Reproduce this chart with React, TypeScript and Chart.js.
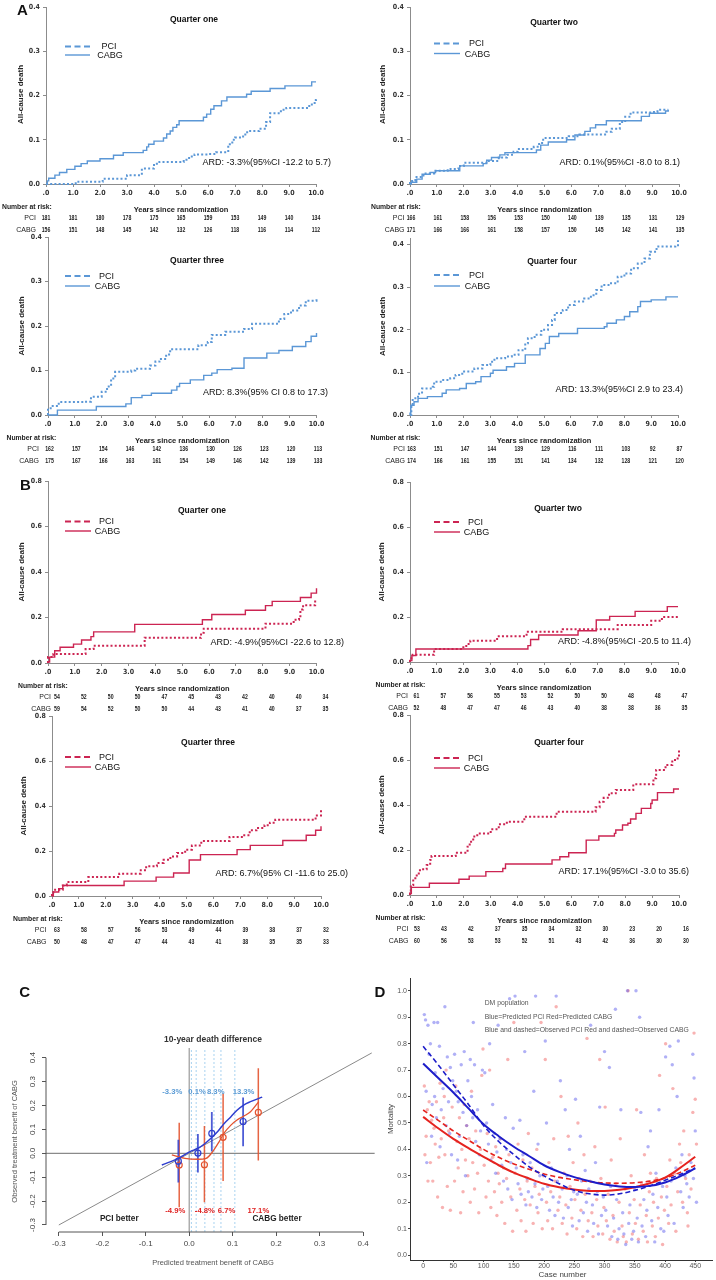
import React, { useEffect, useRef } from "react";
import { Chart, registerables } from "chart.js";

Chart.register(...registerables);

type Pt = [number, number];

const FONT = "'Liberation Sans', Arial, Helvetica, sans-serif";
const NARROW = "'Liberation Sans Narrow', 'DejaVu Sans Condensed', 'Liberation Sans', sans-serif";
Chart.defaults.font.family = FONT;

const BLUE_KM = "#5b97d6";
const RED_KM = "#cc2452";
const AXIS_KM = "#8c8c8c";

// ---------------- Kaplan-Meier data (years, cumulative death) ----------------
const yearTicks = [0, 1, 2, 3, 4, 5, 6, 7, 8, 9, 10];
const aYTicks = [0, 0.1, 0.2, 0.3, 0.4];
const bYTicks = [0, 0.2, 0.4, 0.6, 0.8];

const aQ1Pci: Pt[] = [[0,0],[1.1,0.005],[2.1,0.012],[3.0,0.02],[3.55,0.035],[4.0,0.046],[4.2,0.05],[5.1,0.055],[5.3,0.062],[5.5,0.067],[6.0,0.068],[6.3,0.072],[6.75,0.09],[6.9,0.1],[7.0,0.105],[7.3,0.112],[7.45,0.12],[7.9,0.125],[8.15,0.14],[8.3,0.16],[8.7,0.168],[8.9,0.172],[9.75,0.18],[9.95,0.19],[10,0.193]];
const aQ1Cabg: Pt[] = [[0,0],[0.05,0.007],[0.1,0.013],[0.33,0.02],[0.5,0.026],[0.77,0.033],[1.07,0.04],[1.3,0.046],[1.53,0.052],[2.0,0.057],[2.5,0.065],[2.86,0.071],[3.6,0.076],[3.73,0.084],[3.8,0.09],[4.0,0.097],[4.35,0.104],[4.47,0.113],[4.6,0.12],[4.7,0.128],[4.84,0.134],[4.93,0.143],[5.83,0.151],[5.95,0.158],[6.1,0.169],[6.22,0.177],[6.5,0.188],[6.7,0.197],[7.43,0.203],[7.6,0.21],[8.3,0.216],[8.85,0.222],[9.84,0.231],[10,0.231]];
const aQ2Pci: Pt[] = [[0,0],[0,0.007],[0.2,0.016],[0.5,0.024],[0.9,0.03],[1.4,0.034],[1.8,0.041],[2.0,0.048],[2.9,0.052],[3.3,0.06],[3.6,0.066],[3.85,0.073],[4.0,0.079],[4.6,0.084],[4.8,0.093],[4.95,0.104],[5.9,0.108],[6.3,0.112],[7.3,0.118],[7.5,0.125],[7.8,0.14],[8.0,0.152],[8.2,0.162],[9.0,0.163],[9.2,0.168],[9.6,0.168]];
const aQ2Cabg: Pt[] = [[0,0],[0.05,0.004],[0.25,0.011],[0.45,0.022],[0.75,0.026],[0.95,0.03],[1.85,0.041],[2.72,0.046],[2.85,0.054],[3.03,0.06],[3.34,0.066],[3.53,0.071],[4.7,0.077],[4.86,0.088],[5.14,0.095],[5.82,0.1],[6.13,0.111],[6.5,0.119],[6.7,0.127],[6.9,0.134],[7.3,0.143],[8.6,0.153],[8.9,0.16],[9.5,0.165],[9.6,0.168]];
const aQ3Pci: Pt[] = [[0,0],[0,0.015],[0.1,0.02],[0.4,0.029],[1.35,0.03],[1.6,0.041],[2.0,0.052],[2.2,0.064],[2.35,0.082],[2.5,0.097],[3.1,0.1],[3.25,0.104],[3.8,0.111],[4.0,0.12],[4.15,0.126],[4.4,0.136],[4.55,0.148],[5.6,0.157],[5.95,0.164],[6.1,0.18],[6.6,0.187],[7.3,0.193],[7.6,0.205],[8.6,0.216],[8.8,0.227],[9.05,0.235],[9.35,0.246],[9.6,0.257],[10,0.264]];
const aQ3Cabg: Pt[] = [[0,0],[0.35,0.011],[1.8,0.019],[2.9,0.025],[3.1,0.039],[3.5,0.044],[3.85,0.049],[4.6,0.056],[4.8,0.064],[4.9,0.071],[5.3,0.079],[5.8,0.089],[6.1,0.094],[6.3,0.102],[6.85,0.105],[7.3,0.128],[8.15,0.139],[8.6,0.145],[9.1,0.154],[9.6,0.165],[9.8,0.177],[10,0.184]];
const aQ4Pci: Pt[] = [[0,0],[0.05,0.023],[0.1,0.039],[0.3,0.05],[0.45,0.062],[0.85,0.066],[0.9,0.078],[1.2,0.082],[1.5,0.086],[1.7,0.094],[1.95,0.102],[2.4,0.109],[2.7,0.117],[3.0,0.125],[3.15,0.133],[3.55,0.137],[3.8,0.141],[4.05,0.152],[4.3,0.168],[4.4,0.18],[4.65,0.188],[4.9,0.2],[5.15,0.211],[5.3,0.223],[5.4,0.239],[5.7,0.246],[5.9,0.258],[6.15,0.266],[6.5,0.273],[6.75,0.281],[6.95,0.293],[7.15,0.305],[7.5,0.309],[7.75,0.324],[8.0,0.332],[8.25,0.344],[8.5,0.355],[8.75,0.367],[8.95,0.383],[9.2,0.395],[9.9,0.398],[10,0.41]];
const aQ4Cabg: Pt[] = [[0,0],[0,0.004],[0.03,0.023],[0.15,0.031],[0.3,0.039],[0.65,0.043],[1.2,0.051],[1.35,0.059],[1.85,0.062],[2.1,0.074],[2.45,0.078],[2.65,0.09],[3.0,0.098],[3.1,0.105],[3.6,0.113],[3.9,0.121],[4.3,0.141],[4.85,0.156],[5.05,0.168],[5.2,0.184],[5.55,0.191],[6.25,0.203],[7.25,0.207],[7.35,0.215],[7.7,0.223],[8.0,0.231],[8.2,0.242],[8.5,0.254],[8.6,0.266],[9.0,0.27],[9.55,0.277],[10,0.277]];

const bQ1Pci: Pt[] = [[0,0],[0,0.026],[0.2,0.04],[1.4,0.061],[1.7,0.076],[3.6,0.111],[5.7,0.133],[5.8,0.151],[8.1,0.173],[9.15,0.19],[9.35,0.2],[9.4,0.235],[9.5,0.254],[9.95,0.275],[10,0.275]];
const bQ1Cabg: Pt[] = [[0,0],[0,0.004],[0.06,0.026],[0.25,0.054],[0.45,0.069],[0.95,0.083],[1.25,0.101],[1.6,0.116],[1.7,0.137],[3.23,0.17],[5.75,0.19],[6.1,0.213],[7.35,0.232],[8.1,0.252],[8.35,0.271],[9.4,0.288],[9.8,0.307],[10,0.329]];
const bQ2Pci: Pt[] = [[0,0],[0,0.017],[0.1,0.032],[0.9,0.058],[1.95,0.066],[2.1,0.08],[2.25,0.095],[3.25,0.114],[4.35,0.134],[5.7,0.146],[7.75,0.164],[9.0,0.183],[9.4,0.2],[10,0.2]];
const bQ2Cabg: Pt[] = [[0,0],[0,0.007],[0.07,0.029],[0.22,0.058],[4.4,0.073],[4.5,0.1],[4.8,0.12],[6.27,0.139],[6.95,0.187],[7.45,0.203],[8.4,0.225],[9.6,0.246],[10,0.246]];
const bQ3Pci: Pt[] = [[0,0],[0,0.01],[0.05,0.028],[0.4,0.047],[0.55,0.062],[1.35,0.084],[2.5,0.099],[3.3,0.114],[3.5,0.132],[3.9,0.147],[4.15,0.161],[4.4,0.176],[4.65,0.191],[4.95,0.206],[5.2,0.225],[5.55,0.244],[6.6,0.262],[7.1,0.27],[7.35,0.292],[7.6,0.302],[7.9,0.315],[8.1,0.326],[8.3,0.339],[9.8,0.358],[10,0.381]];
const bQ3Cabg: Pt[] = [[0,0],[0.05,0.018],[0.25,0.033],[0.4,0.047],[2.68,0.066],[3.87,0.084],[4.52,0.102],[5.1,0.16],[5.52,0.184],[6.88,0.206],[7.37,0.225],[8.58,0.247],[9.45,0.27],[9.8,0.292],[10,0.31]];
const bQ4Pci: Pt[] = [[0,0],[0,0.007],[0.03,0.044],[0.12,0.074],[0.25,0.096],[0.37,0.114],[0.62,0.133],[0.75,0.156],[0.8,0.173],[1.7,0.188],[2.14,0.215],[2.22,0.237],[2.35,0.26],[2.5,0.273],[3.0,0.292],[3.3,0.314],[3.6,0.326],[4.25,0.348],[5.45,0.37],[6.9,0.39],[7.05,0.415],[7.2,0.432],[7.4,0.452],[7.65,0.467],[8.3,0.492],[9.05,0.519],[9.15,0.556],[9.5,0.578],[9.75,0.6],[9.95,0.615],[10,0.644]];
const bQ4Cabg: Pt[] = [[0,0],[0,0.007],[0.05,0.034],[0.72,0.052],[1.82,0.07],[2.2,0.084],[2.82,0.104],[3.45,0.118],[3.55,0.138],[5.28,0.156],[5.57,0.17],[5.9,0.188],[6.55,0.244],[7.02,0.262],[7.6,0.274],[7.65,0.289],[7.9,0.311],[8.1,0.319],[8.2,0.338],[8.4,0.363],[8.6,0.385],[8.95,0.407],[9.0,0.422],[9.2,0.455],[9.8,0.471],[10,0.471]];

// ---------------- Number at risk ----------------
const aQ1RiskPci = [181,181,180,178,175,165,159,153,149,140,134];
const aQ1RiskCabg = [156,151,148,145,142,132,126,118,116,114,112];
const aQ2RiskPci = [166,161,158,156,153,150,140,139,135,131,129];
const aQ2RiskCabg = [171,166,166,161,158,157,150,145,142,141,135];
const aQ3RiskPci = [162,157,154,146,142,136,130,126,123,120,113];
const aQ3RiskCabg = [175,167,166,163,161,154,149,146,142,139,133];
const aQ4RiskPci = [163,151,147,144,139,129,116,111,103,92,87];
const aQ4RiskCabg = [174,166,161,155,151,141,134,132,128,121,120];
const bQ1RiskPci = [54,52,50,50,47,45,43,42,40,40,34];
const bQ1RiskCabg = [59,54,52,50,50,44,43,41,40,37,35];
const bQ2RiskPci = [61,57,56,55,53,52,50,50,48,48,47];
const bQ2RiskCabg = [52,48,47,47,46,43,40,38,38,36,35];
const bQ3RiskPci = [63,58,57,56,53,49,44,39,38,37,32];
const bQ3RiskCabg = [50,48,47,47,44,43,41,38,35,35,33];
const bQ4RiskPci = [53,43,42,37,35,34,32,30,23,20,16];
const bQ4RiskCabg = [60,56,53,53,52,51,43,42,36,30,30];

// ---------------- Panel C: calibration ----------------
const cAxisTicks = [-0.3, -0.2, -0.1, 0, 0.1, 0.2, 0.3, 0.4];
const cBluePredX = [-0.025, 0.02, 0.052, 0.124];
const cBlueArd = [-0.033, 0.001, 0.083, 0.133];
const cBlueLo = [-0.122, -0.08, 0.008, 0.029];
const cBlueHi = [0.057, 0.081, 0.173, 0.234];
const cRedPredX = [-0.023, 0.035, 0.078, 0.159];
const cRedArd = [-0.049, -0.048, 0.067, 0.171];
const cRedLo = [-0.226, -0.205, -0.116, -0.03];
const cRedHi = [0.128, 0.114, 0.25, 0.356];
const cCutPoints = [0.005, 0.016, 0.036, 0.057, 0.073, 0.105];
const cBlueCurve: Pt[] = [[-0.063,-0.049],[-0.025,-0.021],[0.002,0.007],[0.02,0.021],[0.035,0.039],[0.05,0.063],[0.065,0.09],[0.08,0.124],[0.096,0.153],[0.11,0.18],[0.126,0.203],[0.141,0.216],[0.168,0.235]];
const cRedCurve: Pt[] = [[-0.04,-0.007],[-0.01,-0.021],[0.02,-0.025],[0.039,-0.021],[0.054,0.007],[0.069,0.049],[0.08,0.084],[0.096,0.118],[0.11,0.139],[0.126,0.156],[0.141,0.174],[0.16,0.216]];
const cBlueLabels = ["-3.3%", "0.1%", "8.3%", "13.3%"];
const cRedLabels = ["-4.9%", "-4.8%", "6.7%", "17.1%"];

// ---------------- Panel D: mortality by case ----------------
const dXTicks = [0, 50, 100, 150, 200, 250, 300, 350, 400, 450];
const dYTicks = [0, 0.1, 0.2, 0.3, 0.4, 0.5, 0.6, 0.7, 0.8, 0.9, 1.0];
const dPciPred: Pt[] = [[2,0.91],[4,0.89],[5,0.62],[8,0.87],[10,0.76],[12,0.8],[15,0.57],[18,0.88],[20,0.69],[22,0.52],[24,0.88],[6,0.35],[14,0.45],[19,0.6],
[27,0.79],[30,0.55],[33,0.63],[36,0.94],[38,0.49],[40,0.75],[42,0.58],[45,0.71],[47,0.38],[49,0.66],[28,0.41],[44,0.46],
[52,0.76],[55,0.62],[58,0.58],[60,0.45],[63,0.72],[66,0.54],[68,0.77],[70,0.3],[72,0.49],[74,0.66],[57,0.36],
[78,0.74],[80,0.6],[83,0.88],[85,0.72],[87,0.43],[90,0.55],[93,0.38],[95,0.47],[98,0.7],[82,0.52],
[102,0.69],[105,0.5],[108,0.42],[110,0.8],[112,0.36],[115,0.57],[118,0.46],[120,0.31],[122,0.39],[124,0.87],
[127,0.44],[130,0.34],[133,0.28],[136,0.52],[138,0.4],[140,0.25],[143,0.97],[145,0.35],[147,0.21],[149,0.48],
[152,0.98],[154,0.33],[157,0.27],[160,0.51],[162,0.23],[165,0.38],[168,0.77],[170,0.19],[172,0.29],[174,0.24],
[177,0.35],[180,0.22],[183,0.62],[185,0.27],[188,0.18],[190,0.42],[193,0.3],[196,0.21],[198,0.25],[186,0.98],
[202,0.81],[204,0.5],[206,0.26],[209,0.17],[212,0.33],[215,0.22],[218,0.15],[220,0.98],[222,0.28],[224,0.2],
[227,0.66],[230,0.25],[232,0.14],[235,0.55],[238,0.3],[240,0.18],[242,0.4],[245,0.21],[247,0.11],[249,0.24],
[252,0.59],[255,0.23],[258,0.13],[260,0.45],[262,0.28],[265,0.16],[268,0.32],[270,0.2],[272,0.09],[274,0.25],
[277,0.87],[280,0.19],[282,0.12],[285,0.35],[288,0.24],[290,0.08],[292,0.56],[295,0.15],[298,0.22],[300,0.77],
[302,0.17],[305,0.11],[308,0.71],[310,0.26],[312,0.07],[315,0.14],[318,0.93],[320,0.21],[322,0.06],[324,0.1],
[327,0.55],[330,0.16],[332,0.08],[335,0.04],[338,1.0],[340,0.12],[342,0.19],[345,0.06],[348,0.09],[350,0.25],
[352,1.0],[354,0.14],[356,0.05],[358,0.9],[360,0.54],[362,0.11],[365,0.21],[368,0.07],[370,0.17],[372,0.41],
[376,0.47],[378,0.13],[380,0.23],[383,0.05],[385,0.31],[388,0.18],[390,0.55],[393,0.1],[396,0.26],[398,0.09],
[401,0.75],[403,0.22],[405,0.15],[408,0.79],[410,0.28],[412,0.72],[415,0.12],[418,0.33],[420,0.6],[422,0.81],
[426,0.24],[428,0.38],[430,0.18],[433,0.3],[436,0.27],[440,0.22],[443,0.35],[446,0.76],[448,0.67],[450,0.47],[452,0.2],[447,0.29]];
const dCabgPred: Pt[] = [[2,0.64],[3,0.38],[5,0.45],[8,0.28],[10,0.58],[12,0.35],[14,0.51],[16,0.28],[18,0.48],[20,0.42],[22,0.58],[24,0.22],[7,0.55],
[26,0.37],[28,0.65],[30,0.44],[32,0.18],[34,0.52],[36,0.38],[38,0.7],[40,0.26],[42,0.47],[45,0.17],[48,0.56],[35,0.6],
[52,0.28],[54,0.64],[56,0.43],[58,0.33],[60,0.52],[62,0.16],[64,0.4],[66,0.24],[68,0.57],[70,0.36],[72,0.49],[74,0.3],
[76,0.44],[78,0.2],[80,0.62],[82,0.35],[85,0.25],[87,0.47],[90,0.31],[92,0.16],[95,0.4],[97,0.68],[99,0.78],
[101,0.34],[104,0.22],[106,0.46],[108,0.28],[110,0.7],[112,0.18],[115,0.37],[118,0.24],[120,0.41],[122,0.15],[124,0.31],
[126,0.27],[128,0.44],[130,0.2],[133,0.33],[135,0.12],[138,0.29],[140,0.74],[142,0.38],[145,0.22],[148,0.09],[150,0.88],
[152,0.31],[155,0.17],[157,0.42],[160,0.25],[162,0.13],[165,0.36],[168,0.21],[170,0.09],[172,0.28],[174,0.46],
[177,0.19],[180,0.33],[182,0.12],[185,0.26],[188,0.4],[190,0.16],[192,0.23],[195,0.88],[197,0.1],[199,0.3],
[202,0.74],[204,0.2],[206,0.13],[208,0.35],[211,0.24],[214,0.1],[216,0.44],[218,0.28],[220,0.94],[223,0.17],
[226,0.22],[228,0.6],[230,0.12],[233,0.31],[236,0.19],[238,0.08],[240,0.45],[243,0.26],[246,0.14],[248,0.35],
[251,0.21],[254,0.1],[256,0.5],[258,0.29],[261,0.17],[264,0.07],[266,0.38],[268,0.23],[271,0.82],[273,0.13],
[276,0.28],[279,0.16],[281,0.07],[284,0.41],[287,0.21],[289,0.11],[292,0.74],[294,0.29],[297,0.08],[299,0.18],
[301,0.56],[303,0.13],[306,0.23],[309,0.06],[311,0.36],[314,0.15],[316,0.09],[319,0.27],[321,0.05],[324,0.2],
[326,0.44],[329,0.11],[331,0.07],[334,0.25],[336,0.05],[339,1.0],[341,0.16],[344,0.3],[346,0.08],[349,0.21],
[351,0.12],[353,0.55],[356,0.06],[359,0.19],[361,0.27],[364,0.09],[366,0.38],[369,0.15],[371,0.05],[374,0.24],
[376,0.31],[379,0.11],[381,0.2],[384,0.07],[386,0.29],[389,0.14],[391,0.68],[394,0.22],[396,0.04],[399,0.17],
[401,0.8],[403,0.26],[406,0.12],[408,0.36],[410,0.19],[413,0.63],[416,0.31],[418,0.09],[421,0.24],[424,0.42],
[426,0.35],[429,0.2],[431,0.47],[434,0.29],[437,0.16],[440,0.38],[443,0.25],[446,0.54],[448,0.84],[450,0.59],[452,0.42],[438,0.11]];
const dFitCase = [0,25,50,75,100,125,150,175,200,225,250,275,300,325,350,375,400,425,450];
const dPciPredFit = [0.725,0.67,0.615,0.555,0.495,0.45,0.41,0.375,0.34,0.315,0.295,0.28,0.267,0.26,0.258,0.262,0.275,0.298,0.328];
const dPciObsFit = [0.79,0.72,0.645,0.57,0.49,0.43,0.38,0.335,0.3,0.27,0.245,0.232,0.227,0.232,0.245,0.262,0.283,0.305,0.33];
const dCabgPredFit = [0.523,0.48,0.44,0.405,0.372,0.34,0.312,0.29,0.27,0.257,0.248,0.243,0.243,0.247,0.257,0.272,0.293,0.33,0.372];
const dCabgObsFit = [0.549,0.51,0.47,0.435,0.4,0.37,0.345,0.325,0.307,0.294,0.285,0.278,0.273,0.272,0.274,0.28,0.292,0.313,0.34];

// ---------------- helpers ----------------
function drawText(ctx: any, text: string, x: number, y: number, font: string, color: string, align: CanvasTextAlign = "center", rot = 0, sx = 1) {
  ctx.save();
  ctx.translate(x, y);
  if (rot) ctx.rotate(rot);
  if (sx !== 1) ctx.scale(sx, 1);
  ctx.font = font;
  ctx.fillStyle = color;
  ctx.textAlign = align;
  ctx.textBaseline = "middle";
  ctx.fillText(text, 0, 0);
  ctx.restore();
}
function seg(ctx: any, x0: number, y0: number, x1: number, y1: number) {
  ctx.beginPath();
  ctx.moveTo(x0, y0);
  ctx.lineTo(x1, y1);
  ctx.stroke();
}
const toXY = (a: Pt[]) => a.map(([x, y]) => ({ x, y }));

// ---------------- KM panels layout ----------------
const kmPanels: any[] = [
  { id: "aq1", col: 0, area: { l: 46, t: 5, r: 316, b: 184 }, yMax: 0.4, yTicks: aYTicks, color: BLUE_KM,
    pci: aQ1Pci, cabg: aQ1Cabg, riskPci: aQ1RiskPci, riskCabg: aQ1RiskCabg,
    title: "Quarter one", titleAt: [194, 20], leg: { x0: 65, x1: 90, y1: 46.5, y2: 55, tx: 109 },
    ard: "ARD: -3.3%(95%CI -12.2 to 5.7)", ardAt: [331, 163], yTitleX: 21, dx: 0, labelR: 36, narL: 2,
    letter: { text: "A", x: 22.5, y: 11 } },
  { id: "aq2", col: 358, area: { l: 410, t: 5, r: 679, b: 184 }, yMax: 0.4, yTicks: aYTicks, color: BLUE_KM,
    pci: aQ2Pci, cabg: aQ2Cabg, riskPci: aQ2RiskPci, riskCabg: aQ2RiskCabg,
    title: "Quarter two", titleAt: [554, 23], leg: { x0: 434, x1: 460, y1: 43.5, y2: 53.5, tx: 476.5 },
    ard: "ARD: 0.1%(95%CI -8.0 to 8.1)", ardAt: [680, 163], yTitleX: 383, dx: 1, labelR: 404.5, narL: 371 },
  { id: "aq3", col: 0, area: { l: 48, t: 237, r: 316.5, b: 415 }, yMax: 0.4, yTicks: aYTicks, color: BLUE_KM,
    pci: aQ3Pci, cabg: aQ3Cabg, riskPci: aQ3RiskPci, riskCabg: aQ3RiskCabg,
    title: "Quarter three", titleAt: [197, 261], leg: { x0: 65, x1: 90, y1: 276, y2: 286, tx: 106.5 },
    ard: "ARD: 8.3%(95% CI 0.8 to 17.3)", ardAt: [328, 393], yTitleX: 22, dx: 1.5, labelR: 39, narL: 6.5 },
  { id: "aq4", col: 358, area: { l: 410, t: 238, r: 678, b: 415 }, yMax: 0.415, yTicks: aYTicks, color: BLUE_KM,
    pci: aQ4Pci, cabg: aQ4Cabg, riskPci: aQ4RiskPci, riskCabg: aQ4RiskCabg,
    title: "Quarter four", titleAt: [552, 262], leg: { x0: 434, x1: 460, y1: 275, y2: 286, tx: 476.5 },
    ard: "ARD: 13.3%(95%CI 2.9 to 23.4)", ardAt: [683, 390], yTitleX: 383, dx: 1.5, labelR: 405, narL: 370.5 },
  { id: "bq1", col: 0, area: { l: 48, t: 481, r: 316.5, b: 663 }, yMax: 0.8, yTicks: bYTicks, color: RED_KM,
    pci: bQ1Pci, cabg: bQ1Cabg, riskPci: bQ1RiskPci, riskCabg: bQ1RiskCabg,
    title: "Quarter one", titleAt: [202, 511], leg: { x0: 65, x1: 91, y1: 521.5, y2: 531, tx: 106.5 },
    ard: "ARD: -4.9%(95%CI -22.6 to 12.8)", ardAt: [344, 643], yTitleX: 22, dx: 9, labelR: 51, narL: 18,
    letter: { text: "B", x: 25.3, y: 486 } },
  { id: "bq2", col: 358, area: { l: 410, t: 482, r: 678, b: 662 }, yMax: 0.8, yTicks: bYTicks, color: RED_KM,
    pci: bQ2Pci, cabg: bQ2Cabg, riskPci: bQ2RiskPci, riskCabg: bQ2RiskCabg,
    title: "Quarter two", titleAt: [558, 509], leg: { x0: 434, x1: 460, y1: 522, y2: 532, tx: 475.5 },
    ard: "ARD: -4.8%(95%CI -20.5 to 11.4)", ardAt: [691, 641.5], yTitleX: 382, dx: 6.5, labelR: 408, narL: 375.5 },
  { id: "bq3", col: 0, area: { l: 52, t: 716, r: 321, b: 896 }, yMax: 0.8, yTicks: bYTicks, color: RED_KM,
    pci: bQ3Pci, cabg: bQ3Cabg, riskPci: bQ3RiskPci, riskCabg: bQ3RiskCabg,
    title: "Quarter three", titleAt: [208, 743], leg: { x0: 65, x1: 91, y1: 757, y2: 767, tx: 106.5 },
    ard: "ARD: 6.7%(95% CI -11.6 to 25.0)", ardAt: [348, 874], yTitleX: 24, dx: 5, labelR: 46.5, narL: 13 },
  { id: "bq4", col: 358, area: { l: 410, t: 715, r: 679, b: 895 }, yMax: 0.8, yTicks: bYTicks, color: RED_KM,
    pci: bQ4Pci, cabg: bQ4Cabg, riskPci: bQ4RiskPci, riskCabg: bQ4RiskCabg,
    title: "Quarter four", titleAt: [559, 743], leg: { x0: 434, x1: 460, y1: 758, y2: 768, tx: 475.5 },
    ard: "ARD: 17.1%(95%CI -3.0 to 35.6)", ardAt: [689, 872], yTitleX: 382, dx: 7, labelR: 408.5, narL: 375.5 },
];

function drawKmOverlay(chart: any, p: any, cx: number, cy: number) {
  const ctx = chart.ctx;
  const xs = chart.scales.x;
  ctx.save();
  ctx.translate(-cx, -cy);
  drawText(ctx, p.title, p.titleAt[0], p.titleAt[1], `bold 8.5px ${FONT}`, "#111");
  // legend
  ctx.strokeStyle = p.color;
  ctx.lineWidth = 2;
  ctx.setLineDash([6, 3.5]);
  seg(ctx, p.leg.x0, p.leg.y1, p.leg.x1, p.leg.y1);
  ctx.setLineDash([]);
  ctx.lineWidth = 1.4;
  seg(ctx, p.leg.x0, p.leg.y2, p.leg.x1, p.leg.y2);
  drawText(ctx, "PCI", p.leg.tx, p.leg.y1 + 0.5, `9px ${FONT}`, "#111");
  drawText(ctx, "CABG", p.leg.tx + 1, p.leg.y2 + 1, `9px ${FONT}`, "#111");
  drawText(ctx, p.ard, p.ardAt[0], p.ardAt[1], `9px ${FONT}`, "#111", "right");
  drawText(ctx, "All-cause death", p.yTitleX, (p.area.t + p.area.b) / 2, `bold 8px ${FONT}`, "#222", "center", -Math.PI / 2);
  const b = p.area.b;
  drawText(ctx, "Number at risk:", p.narL, b + 23, `bold 6.8px ${FONT}`, "#222", "left");
  drawText(ctx, "Years since randomization", (p.area.l + p.area.r) / 2, b + 25.5, `bold 7.5px ${FONT}`, "#222");
  drawText(ctx, "PCI", p.labelR, b + 34.5, `7px ${FONT}`, "#222", "right");
  drawText(ctx, "CABG", p.labelR, b + 46, `7px ${FONT}`, "#222", "right");
  yearTicks.forEach((t, i) => {
    const x = xs.getPixelForValue(t) + cx + p.dx;
    drawText(ctx, String(p.riskPci[i]), x, b + 34.5, `bold 7.2px ${FONT}`, "#222", "center", 0, 0.72);
    drawText(ctx, String(p.riskCabg[i]), x, b + 46, `bold 7.2px ${FONT}`, "#222", "center", 0, 0.72);
  });
  if (p.letter) drawText(ctx, p.letter.text, p.letter.x, p.letter.y, `bold 15px ${FONT}`, "#111");
  ctx.restore();
}

function kmSpec(p: any) {
  const cx = p.col;
  const cy = Math.max(0, p.area.t - 14);
  const w = 358;
  const h = p.area.b + 52 - cy;
  const xH = 18;
  const tickFont = { family: NARROW, size: 7, weight: "bold" as const };
  const make = () => ({
    type: "line",
    data: {
      datasets: [
        { label: "PCI", data: toXY(p.pci), borderColor: p.color, borderWidth: 2, borderDash: [2, 2.2], stepped: "before", pointRadius: 0, fill: false, clip: false },
        { label: "CABG", data: toXY(p.cabg), borderColor: p.color, borderWidth: 1.4, stepped: "before", pointRadius: 0, fill: false, clip: false },
      ],
    },
    options: {
      animation: false,
      responsive: false,
      events: [],
      layout: { padding: { left: 0, top: p.area.t - cy, right: cx + w - p.area.r, bottom: cy + h - p.area.b - xH } },
      plugins: { legend: { display: false }, tooltip: { enabled: false } },
      scales: {
        x: {
          type: "linear", min: 0, max: 10,
          afterBuildTicks: (s: any) => { s.ticks = yearTicks.map((v) => ({ value: v })); },
          afterFit: (s: any) => { s.height = xH; },
          grid: { drawOnChartArea: false, color: AXIS_KM, tickLength: 3 },
          border: { color: AXIS_KM, width: 1 },
          ticks: { autoSkip: false, maxRotation: 0, padding: 2, color: "#333", font: tickFont,
            callback: (v: any) => (Number(v) === 0 ? ".0" : Number(v).toFixed(1)) },
        },
        y: {
          type: "linear", min: 0, max: p.yMax,
          afterBuildTicks: (s: any) => { s.ticks = p.yTicks.map((v: number) => ({ value: v })); },
          afterFit: (s: any) => { s.width = p.area.l - cx; },
          grid: { drawOnChartArea: false, color: AXIS_KM, tickLength: 3 },
          border: { color: AXIS_KM, width: 1 },
          ticks: { padding: 3, color: "#333", font: tickFont, callback: (v: any) => Number(v).toFixed(1) },
        },
      },
    },
    plugins: [{ id: "km-" + p.id, afterDraw: (chart: any) => drawKmOverlay(chart, p, cx, cy) }],
  });
  return { x: cx, y: cy, w, h, make };
}

// ---------------- Panel C ----------------
const C_BLUE = "#2f3fcf";
const C_RED = "#e3532f";
const C_LIGHT = "#5b9bd5";
const C_LABEL_RED = "#e02424";
const cBox = { x: 0, y: 982, w: 380, h: 298 };
const cArea = { l: 46, t: 1048, r: 379, b: 1232 };
const cRange = { xMin: -0.3295, xMax: 0.427, yMin: -0.3293, yMax: 0.4406 };
const cLayout = {
  title: [213, 1040], xTitle: [213, 1263], yTitleX: 15, yLabelX: 33,
  blueLabelX: [-0.039, 0.018, 0.061, 0.125], blueLabelY: 0.256,
  redLabelX: [-0.032, 0.036, 0.086, 0.159], redLabelY: -0.241,
  pciBetter: [-0.161, -0.275], cabgBetter: [0.202, -0.275], diagEnd: 0.42,
};

function cSpec() {
  const cx = cBox.x, cy = cBox.y;
  const make = () => {
    const datasets: any[] = [];
    datasets.push({ data: cBluePredX.map((x, i) => ({ x, y: cBlueArd[i] })), pointRadius: 3, pointBorderWidth: 1.2, borderColor: C_BLUE, pointBorderColor: C_BLUE, pointBackgroundColor: "rgba(255,255,255,0)", showLine: false });
    datasets.push({ data: cRedPredX.map((x, i) => ({ x, y: cRedArd[i] })), pointRadius: 3, pointBorderWidth: 1.2, borderColor: C_RED, pointBorderColor: C_RED, pointBackgroundColor: "rgba(255,255,255,0)", showLine: false });
    datasets.push({ data: toXY(cBlueCurve), showLine: true, pointRadius: 0, borderColor: C_BLUE, borderWidth: 1.5, cubicInterpolationMode: "monotone" });
    datasets.push({ data: toXY(cRedCurve), showLine: true, pointRadius: 0, borderColor: C_RED, borderWidth: 1.3, cubicInterpolationMode: "monotone" });
    cBluePredX.forEach((x, i) => datasets.push({ data: [{ x, y: cBlueLo[i] }, { x, y: cBlueHi[i] }], showLine: true, pointRadius: 0, borderColor: "rgba(47,63,207,0.85)", borderWidth: 1.8 }));
    cRedPredX.forEach((x, i) => datasets.push({ data: [{ x, y: cRedLo[i] }, { x, y: cRedHi[i] }], showLine: true, pointRadius: 0, borderColor: "rgba(227,83,47,0.9)", borderWidth: 1.5 }));
    cCutPoints.forEach((x) => datasets.push({ data: [{ x, y: cRange.yMin }, { x, y: cRange.yMax }], showLine: true, pointRadius: 0, borderColor: "#a9d3f0", borderWidth: 1, borderDash: [2, 2] }));
    datasets.push({ data: [{ x: -0.3, y: -0.3 }, { x: cLayout.diagEnd, y: cLayout.diagEnd }], showLine: true, pointRadius: 0, borderColor: "#8a8a8a", borderWidth: 1 });
    datasets.push({ data: [{ x: cRange.xMin, y: 0 }, { x: cRange.xMax, y: 0 }], showLine: true, pointRadius: 0, borderColor: "#8a8a8a", borderWidth: 1.2 });
    datasets.push({ data: [{ x: 0, y: cRange.yMin }, { x: 0, y: cRange.yMax }], showLine: true, pointRadius: 0, borderColor: "#9a9a9a", borderWidth: 1.2 });
    return {
      type: "scatter",
      data: { datasets },
      options: {
        animation: false, responsive: false, events: [],
        layout: { padding: { left: 0, top: cArea.t - cy, right: cx + cBox.w - cArea.r, bottom: 0 } },
        plugins: { legend: { display: false }, tooltip: { enabled: false } },
        scales: {
          x: {
            type: "linear", min: cRange.xMin, max: cRange.xMax,
            afterBuildTicks: (s: any) => { s.ticks = cAxisTicks.map((v) => ({ value: v })); },
            afterFit: (s: any) => { s.height = cy + cBox.h - cArea.b; },
            grid: { drawOnChartArea: false, color: "#555", tickLength: 4 },
            border: { display: false },
            ticks: { autoSkip: false, maxRotation: 0, padding: 3, color: "#444", font: { size: 8 }, callback: (v: any) => Number(v).toFixed(1) },
          },
          y: {
            type: "linear", min: cRange.yMin, max: cRange.yMax,
            afterBuildTicks: (s: any) => { s.ticks = cAxisTicks.map((v) => ({ value: v })); },
            afterFit: (s: any) => { s.width = cArea.l - cx; },
            grid: { drawOnChartArea: false, color: "#555", tickLength: 4 },
            border: { display: false },
            ticks: { display: false },
          },
        },
      },
      plugins: [{
        id: "c-overlay",
        afterDraw: (chart: any) => {
          const ctx = chart.ctx;
          const xs = chart.scales.x, ys = chart.scales.y;
          const X = (v: number) => xs.getPixelForValue(v) + cx;
          const Y = (v: number) => ys.getPixelForValue(v) + cy;
          ctx.save();
          ctx.translate(-cx, -cy);
          ctx.strokeStyle = "#555";
          ctx.lineWidth = 1;
          seg(ctx, X(-0.3), cArea.b, X(0.4), cArea.b);
          seg(ctx, cArea.l, Y(-0.3), cArea.l, Y(0.4));
          cAxisTicks.forEach((v) => drawText(ctx, v.toFixed(1), cLayout.yLabelX, Y(v), `8px ${FONT}`, "#444", "center", -Math.PI / 2));
          drawText(ctx, "Observed treatment benefit of CABG", cLayout.yTitleX, Y(0.05), `7.5px ${FONT}`, "#555", "center", -Math.PI / 2);
          drawText(ctx, "Predicted treatment benefit of CABG", cLayout.xTitle[0], cLayout.xTitle[1], `7.5px ${FONT}`, "#555");
          drawText(ctx, "10-year death difference", cLayout.title[0], cLayout.title[1], `bold 8.5px ${FONT}`, "#333");
          cBlueLabels.forEach((t, i) => drawText(ctx, t, X(cLayout.blueLabelX[i]), Y(cLayout.blueLabelY), `bold 7.7px ${FONT}`, C_LIGHT));
          cRedLabels.forEach((t, i) => drawText(ctx, t, X(cLayout.redLabelX[i]), Y(cLayout.redLabelY), `bold 7.7px ${FONT}`, C_LABEL_RED));
          drawText(ctx, "PCI better", X(cLayout.pciBetter[0]), Y(cLayout.pciBetter[1]), `bold 8.2px ${FONT}`, "#222");
          drawText(ctx, "CABG better", X(cLayout.cabgBetter[0]), Y(cLayout.cabgBetter[1]), `bold 8.2px ${FONT}`, "#222");
          drawText(ctx, "C", 24.7, 993, `bold 15px ${FONT}`, "#111");
          ctx.restore();
        },
      }],
    };
  };
  return { x: cx, y: cy, w: cBox.w, h: cBox.h, make };
}

// ---------------- Panel D ----------------
const dBox = { x: 358, y: 970, w: 358, h: 310 };
const dArea = { l: 410, t: 978, r: 715, b: 1260 };
const dRange = { xMin: -21.7, xMax: 477.7, yMin: -0.0185, yMax: 1.0485 };
const D_BLUE = "#1d1dc9";
const D_RED = "#e5231f";

function dSpec() {
  const cx = dBox.x, cy = dBox.y;
  const fit = (vals: number[]) => dFitCase.map((x, i) => ({ x, y: vals[i] }));
  const make = () => ({
    type: "scatter",
    data: {
      datasets: [
        { data: fit(dPciPredFit), showLine: true, pointRadius: 0, borderColor: D_BLUE, borderWidth: 2, cubicInterpolationMode: "monotone" },
        { data: fit(dPciObsFit), showLine: true, pointRadius: 0, borderColor: D_BLUE, borderWidth: 1.6, borderDash: [5, 3], cubicInterpolationMode: "monotone" },
        { data: fit(dCabgPredFit), showLine: true, pointRadius: 0, borderColor: D_RED, borderWidth: 2, cubicInterpolationMode: "monotone" },
        { data: fit(dCabgObsFit), showLine: true, pointRadius: 0, borderColor: D_RED, borderWidth: 1.6, borderDash: [5, 3], cubicInterpolationMode: "monotone" },
        { data: toXY(dPciPred), pointRadius: 1.7, pointBorderWidth: 0, pointBackgroundColor: "rgba(80,80,235,0.45)", showLine: false },
        { data: toXY(dCabgPred), pointRadius: 1.7, pointBorderWidth: 0, pointBackgroundColor: "rgba(240,85,85,0.45)", showLine: false },
      ],
    },
    options: {
      animation: false, responsive: false, events: [],
      layout: { padding: { left: 0, top: dArea.t - cy, right: cx + dBox.w - dArea.r, bottom: 0 } },
      plugins: { legend: { display: false }, tooltip: { enabled: false } },
      scales: {
        x: {
          type: "linear", min: dRange.xMin, max: dRange.xMax,
          afterBuildTicks: (s: any) => { s.ticks = dXTicks.map((v) => ({ value: v })); },
          afterFit: (s: any) => { s.height = cy + dBox.h - dArea.b; },
          grid: { drawOnChartArea: false, color: "#444", tickLength: 2 },
          border: { color: "#333", width: 1 },
          ticks: { autoSkip: false, maxRotation: 0, padding: 0, color: "#555", font: { size: 7 } },
        },
        y: {
          type: "linear", min: dRange.yMin, max: dRange.yMax,
          afterBuildTicks: (s: any) => { s.ticks = dYTicks.map((v) => ({ value: v })); },
          afterFit: (s: any) => { s.width = dArea.l - cx; },
          grid: { drawOnChartArea: false, color: "#444", tickLength: 2 },
          border: { color: "#333", width: 1 },
          ticks: { padding: 1, color: "#555", font: { size: 7 }, callback: (v: any) => Number(v).toFixed(1) },
        },
      },
    },
    plugins: [{
      id: "d-overlay",
      afterDraw: (chart: any) => {
        const ctx = chart.ctx;
        ctx.save();
        ctx.translate(-cx, -cy);
        drawText(ctx, "DM population", 484.7, 1003, `6.8px ${FONT}`, "#555", "left");
        drawText(ctx, "Blue=Predicted PCI Red=Predicted CABG", 484.7, 1017, `6.8px ${FONT}`, "#555", "left");
        drawText(ctx, "Blue and dashed=Observed PCI Red and dashed=Observed CABG", 484.7, 1030, `6.8px ${FONT}`, "#555", "left");
        drawText(ctx, "Mortality", 391, (dArea.t + dArea.b) / 2, `8px ${FONT}`, "#444", "center", -Math.PI / 2);
        drawText(ctx, "Case number", (dArea.l + dArea.r) / 2, 1274.5, `8px ${FONT}`, "#444");
        drawText(ctx, "D", 380, 993, `bold 15px ${FONT}`, "#111");
        ctx.restore();
      },
    }],
  });
  return { x: cx, y: cy, w: dBox.w, h: dBox.h, make };
}

const specs = [...kmPanels.map(kmSpec), cSpec(), dSpec()];

export default function App() {
  const refs = useRef<(HTMLCanvasElement | null)[]>([]);
  useEffect(() => {
    const charts: any[] = [];
    specs.forEach((s, i) => {
      const c = refs.current[i];
      if (c) charts.push(new Chart(c, s.make() as any));
    });
    return () => charts.forEach((c) => c.destroy());
  }, []);
  return (
    <div style={{ position: "absolute", left: 0, top: 0, width: 716, height: 1280, background: "#fff", overflow: "hidden" }}>
      {specs.map((s, i) => (
        <canvas
          key={i}
          ref={(el) => { refs.current[i] = el; }}
          width={s.w}
          height={s.h}
          style={{ position: "absolute", left: s.x, top: s.y, width: s.w, height: s.h }}
        />
      ))}
    </div>
  );
}
